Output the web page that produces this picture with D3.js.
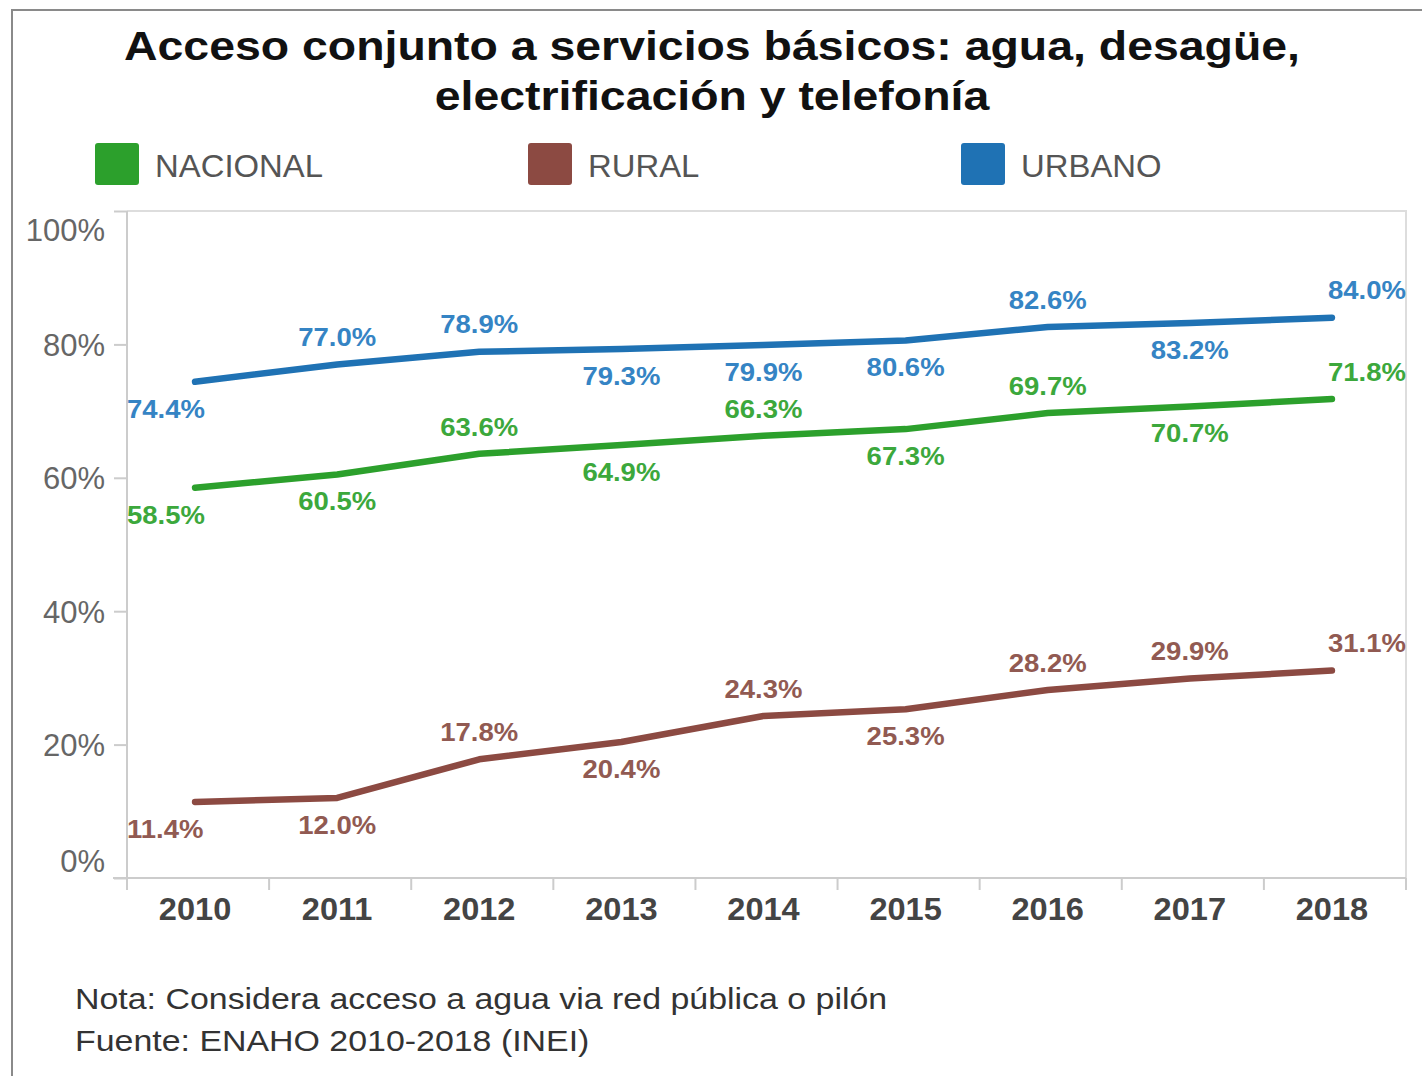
<!DOCTYPE html>
<html>
<head>
<meta charset="utf-8">
<script src="https://cdn.jsdelivr.net/npm/d3@7"></script>
<style>
  body { margin: 0; background: #fff; }
  text { font-family: "Liberation Sans", Arial, sans-serif; }
</style>
</head>
<body>
<svg id="chart" width="1422" height="1076"></svg>
<script>
// DATA
const years = ["2010", "2011", "2012", "2013", "2014", "2015", "2016", "2017", "2018"];
const nacional = [58.5, 60.5, 63.6, 64.9, 66.3, 67.3, 69.7, 70.7, 71.8];
const rural = [11.4, 12.0, 17.8, 20.4, 24.3, 25.3, 28.2, 29.9, 31.1];
const urbano = [74.4, 77.0, 78.9, 79.3, 79.9, 80.6, 82.6, 83.2, 84.0];
// label side: a = above the line, b = below
const nacionalSide = ["b", "b", "a", "b", "a", "b", "a", "b", "a"];
const ruralSide = ["b", "b", "a", "b", "a", "b", "a", "a", "a"];
const urbanoSide = ["b", "a", "a", "b", "b", "b", "a", "b", "a"];
const yTicks = [0, 20, 40, 60, 80, 100];
const titleLines = ["Acceso conjunto a servicios básicos: agua, desagüe,", "electrificación y telefonía"];
const notes = ["Nota: Considera acceso a agua via red pública o pilón", "Fuente: ENAHO 2010-2018 (INEI)"];

const series = [
  { name: "NACIONAL", values: nacional, side: nacionalSide, color: "#2ca02c", label: "#3ca83c" },
  { name: "RURAL", values: rural, side: ruralSide, color: "#8c4a42", label: "#915a52" },
  { name: "URBANO", values: urbano, side: urbanoSide, color: "#1f72b4", label: "#3584c4" },
];

const svg = d3.select("#chart");

// the source image is a bit wider than the font, stretch text horizontally
function stretch(sel, factor) {
  sel.each(function () {
    const w = this.getComputedTextLength();
    d3.select(this)
      .attr("textLength", w * factor)
      .attr("lengthAdjust", "spacingAndGlyphs");
  });
}

// outer frame
svg.append("rect")
  .attr("x", 12).attr("y", 10)
  .attr("width", 1500).attr("height", 1200)
  .attr("fill", "#fff")
  .attr("stroke", "#8a8a8a")
  .attr("stroke-width", 2);

// Title
svg.selectAll(".title")
  .data(titleLines)
  .enter()
  .append("text")
  .attr("class", "title")
  .attr("x", 712)
  .attr("y", (d, i) => 60 + i * 50)
  .attr("text-anchor", "middle")
  .style("font-size", "40px")
  .style("font-weight", "bold")
  .attr("fill", "#111")
  .text((d) => d)
  .call(stretch, 1.16);

// Legend
const legend = svg.selectAll(".legend")
  .data(series)
  .enter()
  .append("g")
  .attr("class", "legend")
  .attr("transform", (d, i) => "translate(" + (95 + i * 433) + ",143)");
legend.append("rect")
  .attr("width", 44).attr("height", 42)
  .attr("rx", 3)
  .attr("fill", (d) => d.color);
legend.append("text")
  .attr("x", 60).attr("y", 34)
  .style("font-size", "31px")
  .attr("fill", "#555")
  .text((d) => d.name)
  .call(stretch, 1.06);

// Plot area
const plotLeft = 127, plotRight = 1406, plotTop = 211, plotBottom = 878;

const x = d3.scaleBand().domain(years).range([plotLeft, plotRight]);
const y = d3.scaleLinear().domain([0, 100]).range([plotBottom, plotTop]);

// plot border (top and right light gray)
svg.append("path")
  .attr("d", "M" + plotLeft + "," + plotTop + "H" + plotRight + "V" + plotBottom)
  .attr("fill", "none")
  .attr("stroke", "#ddd")
  .attr("stroke-width", 2);
svg.append("line")
  .attr("x1", plotLeft).attr("x2", plotLeft)
  .attr("y1", plotTop).attr("y2", plotBottom + 12)
  .attr("stroke", "#ccc").attr("stroke-width", 2);

// Y axis
const yAxis = svg.append("g")
  .attr("class", "myYaxis")
  .attr("transform", "translate(" + plotLeft + ",0)")
  .call(d3.axisLeft(y).tickValues(yTicks).tickFormat((d) => d + "%").tickSize(13).tickPadding(9));
yAxis.select(".domain").remove();
yAxis.selectAll("line").attr("stroke", "#ccc").attr("stroke-width", 2);
yAxis.selectAll("text")
  .style("font-size", "31px")
  .attr("fill", "#666")
  .attr("dy", (d) => (d == 100 ? "0.95em" : d == 0 ? "-0.2em" : "0.35em"));

// X axis line + ticks at band edges
svg.append("line")
  .attr("x1", plotLeft - 14).attr("x2", plotRight)
  .attr("y1", plotBottom).attr("y2", plotBottom)
  .attr("stroke", "#ccc").attr("stroke-width", 2);
const edges = years.map((d) => x(d)).concat([plotRight]);
svg.selectAll(".xtick")
  .data(edges)
  .enter()
  .append("line")
  .attr("class", "xtick")
  .attr("x1", (d) => d).attr("x2", (d) => d)
  .attr("y1", plotBottom).attr("y2", plotBottom + 12)
  .attr("stroke", "#ccc").attr("stroke-width", 2);
svg.selectAll(".xlabel")
  .data(years)
  .enter()
  .append("text")
  .attr("class", "xlabel")
  .attr("x", (d) => x(d) + x.bandwidth() / 2 - 3)
  .attr("y", plotBottom + 42)
  .attr("text-anchor", "middle")
  .style("font-size", "31px")
  .style("font-weight", "bold")
  .attr("fill", "#444")
  .text((d) => d)
  .call(stretch, 1.05);

// Lines
const line = d3.line()
  .x((d, i) => x(years[i]) + x.bandwidth() / 2 - 3)
  .y((d) => y(d));

svg.selectAll(".series")
  .data(series)
  .enter()
  .append("path")
  .attr("class", "series")
  .attr("d", (d) => line(d.values))
  .attr("fill", "none")
  .attr("stroke", (d) => d.color)
  .attr("stroke-width", 6.5)
  .attr("stroke-linecap", "round")
  .attr("stroke-linejoin", "round");

// Data labels: first one pinned to the left edge, last one to the right edge
series.forEach(function (s) {
  s.values.forEach(function (v, i) {
    const cx = x(years[i]) + x.bandwidth() / 2 - 3;
    const t = svg.append("text")
      .attr("y", y(v) + (s.side[i] == "a" ? -27 : 27))
      .attr("dy", "0.35em")
      .style("font-size", "25px")
      .style("font-weight", "bold")
      .attr("fill", s.label)
      .text(v.toFixed(1) + "%")
      .call(stretch, 1.1);
    const w = +t.attr("textLength");
    let tx = cx - w / 2;
    if (i == 0) tx = plotLeft;
    if (i == s.values.length - 1) tx = plotRight - w;
    t.attr("x", tx);
  });
});

// Notes
svg.selectAll(".note")
  .data(notes)
  .enter()
  .append("text")
  .attr("class", "note")
  .attr("x", 75)
  .attr("y", (d, i) => 1009 + i * 42)
  .style("font-size", "30px")
  .attr("fill", "#333")
  .text((d) => d)
  .call(stretch, 1.13);
</script>
</body>
</html>
